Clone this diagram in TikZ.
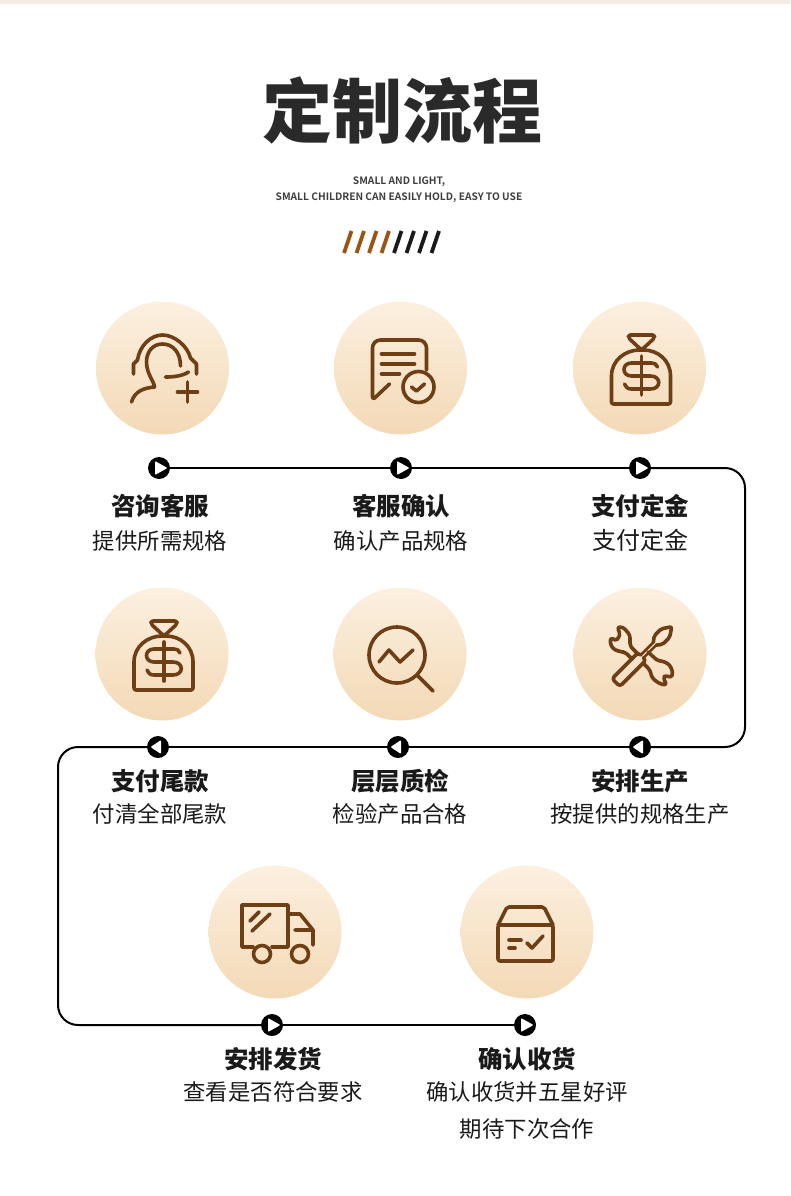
\documentclass[tikz,border=0pt]{standalone}
\usepackage{xcolor}
\usepackage{fontspec}
\usepackage{tikz}
\usetikzlibrary{positioning, calc}
\setmainfont{Noto Sans CJK SC}
\newfontfamily\heavyfont{Noto Sans CJK SC Black}
\newfontfamily\midfont{Noto Sans CJK SC Bold}
\definecolor{mybrown}{RGB}{110,62,20}
\definecolor{myorange}{RGB}{156,84,20}
\definecolor{mydark}{RGB}{26,26,26}
\definecolor{titledark}{RGB}{42,42,42}
\definecolor{smallgrey}{RGB}{62,62,62}
\definecolor{bandtan}{RGB}{243,235,226}
\definecolor{disctop}{RGB}{252,240,224}
\definecolor{discbot}{RGB}{243,217,182}
\tikzset{
  disc/.style={circle, minimum size=133pt, inner sep=0pt, outer sep=0pt,
    top color=disctop, bottom color=discbot},
  icon/.style={draw=mybrown, line width=3.6pt, line cap=round, line join=round},
  flow/.style={line width=2pt, color=black, rounded corners=20pt},
  markbase/.style={circle, fill=black, minimum size=22pt, inner sep=0pt, outer sep=0pt},
  markright/.style={markbase, path picture={
    \fill[white, rounded corners=1pt] ([shift={(-4pt,-7pt)}]path picture bounding box.center)
      -- ([shift={(8.5pt,0pt)}]path picture bounding box.center)
      -- ([shift={(-4pt,7pt)}]path picture bounding box.center) -- cycle;}},
  markleft/.style={markbase, path picture={
    \fill[white, rounded corners=1pt] ([shift={(3pt,-7pt)}]path picture bounding box.center)
      -- ([shift={(-7.5pt,0pt)}]path picture bounding box.center)
      -- ([shift={(3pt,7pt)}]path picture bounding box.center) -- cycle;}},
  headtext/.style={font=\fontsize{24.5}{28}\selectfont\bfseries, color=mydark,
    inner sep=0pt, text height=21pt, text depth=3pt},
  subtext/.style={font=\fontsize{22.4}{26}\selectfont, color=mydark,
    inner sep=0pt, text height=19pt, text depth=3pt},
  smalltext/.style={font=\fontsize{10.2}{16}\selectfont\midfont, color=smallgrey,
    inner sep=0pt, align=center},
  stripe/.style={line width=3.8pt},
  pics/headicon/.style={code={
    \draw[icon] (-29,6) -- (-29,-4) -- (-25,-8) .. controls (-23,-22) and (-12,-33) .. (0,-33)
      .. controls (12,-33) and (25,-22) .. (28,-10) -- (34,-4) -- (34,6);
    \draw[icon] (18,-2) .. controls (18,-16) and (10,-24) .. (0,-24)
      .. controls (-10,-24) and (-16,-16) .. (-16,-6) .. controls (-16,6) and (-8,14) .. (-8,19)
      .. controls (-20,20) and (-28,24) .. (-31,34);
    \draw[icon] (3,9) .. controls (11,9) and (20,8) .. (26,4);
    \draw[icon] (15,24) -- (35,24) (25,14) -- (25,34);
  }},
  pics/noteicon/.style={code={
    \draw[icon, rounded corners=8pt] (26,2) -- (26,-28) -- (-28,-28) [rounded corners=3pt] -- (-28,32) -- (-11,16);
    \draw[icon] (-19,-14) -- (14,-14) (-19,-4) -- (14,-4) (-19,6) -- (-1,6);
    \draw[icon, fill=disctop!60!discbot] (18,19) circle (15.5);
    \draw[icon] (11,19) -- (16,23) -- (24,16);
  }},
  pics/bagicon/.style={code={
    \draw[icon, rounded corners=2pt] (-11,-33) -- (15,-33) -- (15,-30) -- (2,-18) -- (-11,-30) -- cycle;
    \draw[icon, rounded corners=2pt] (-28,10) .. controls (-28,-8) and (-14,-18) .. (2,-18)
      .. controls (18,-18) and (31,-8) .. (31,10) -- (31,36) -- (-28,36) -- cycle;
    \draw[icon] (2,-12) -- (2,27);
    \draw[icon] (18,-1) .. controls (17,-4) and (15,-5) .. (12,-5) -- (-8,-5)
      .. controls (-18,-5) and (-18,8) .. (-8,8) -- (11,8)
      .. controls (22,8) and (22,21) .. (11,21) -- (-8,21) .. controls (-12,21) and (-14,19) .. (-15,16);
  }},
  pics/lensicon/.style={code={
    \draw[icon] (-3,1) circle (28);
    \draw[icon] (17,21) -- (33,37);
    \draw[icon] (-21,8) -- (-11,-4) -- (0,8) -- (13,-4);
  }},
  pics/toolicon/.style={code={
    \begin{scope}[shift={(3.5,1)}, rotate=45]
      \draw[icon, rounded corners=3pt] (-2,-2) -- (-2,-5.5) -- (-39,-5.5) -- (-39,5.5) -- (-2,5.5) -- (-2,2);
      \draw[icon, line width=2.6pt] (-2,-2) -- (16,-2) (-2,2) -- (16,2);
      \draw[icon, rounded corners=2pt] (16,-2) -- (21,-6) -- (31,-6) -- (40,0) -- (31,6) -- (21,6) -- (16,2);
    \end{scope}
    \draw[icon, rounded corners=3pt] (-3,-1) -- (-10,-8) -- (-10,-19) -- (-17,-27) -- (-23,-27)
      -- (-20,-21) -- (-21,-16) -- (-25,-13) -- (-29,-17) -- (-30,-11) -- (-27,-5) -- (-19,-2) -- (-15,-2) -- (-8,5);
    \draw[icon, rounded corners=3pt] (3,9) -- (10,16) -- (12,24) -- (20,30) -- (27,31)
      -- (23,24) -- (26,21) -- (31,24) -- (33,19) -- (30,11) -- (23,7) -- (18,7) -- (8,-2);
  }},
  pics/truckicon/.style={code={
    \draw[icon] (-22,15) -- (-33,15) -- (-33,-27) -- (13,-27) -- (13,15) -- (-3,15);
    \draw[icon] (13,-18) -- (25,-18) -- (38,-2) -- (38,13) (20,-2) -- (38,-2);
    \draw[icon] (-13,22) circle (8.5) (25,22) circle (8.5);
    \draw[icon] (-25,-11) -- (-16,-20) (-23,-1) -- (-5,-18);
  }},
  pics/boxicon/.style={code={
    \draw[icon, rounded corners=2pt] (-29,-7) -- (26,-7) -- (26,29) -- (-29,29) -- cycle;
    \draw[icon, rounded corners=2pt] (-29,-7) -- (-20,-25) -- (17,-25) -- (26,-7);
    \draw[icon] (-18,8) -- (-6,8) (-18,16) -- (-12,16);
    \draw[icon] (0,11) -- (5,16) -- (16,4);
  }}
}
\begin{document}
\begin{tikzpicture}[x=1pt, y=-1pt]
  \useasboundingbox (0,0) rectangle (790,1196);
  \fill[bandtan] (0,0) rectangle (790,4);

  \node[font=\fontsize{70}{70}\selectfont\heavyfont, color=titledark, inner sep=0pt] (title) at (402,110) {定制流程};
  \node[smalltext, below=33pt of title, xshift=-3pt] (subtitle) {SMALL AND LIGHT,\\SMALL CHILDREN CAN EASILY HOLD, EASY TO USE};

  \foreach \i in {0,...,3}
    \draw[stripe, myorange] (344+12.5*\i,253) -- (351.5+12.5*\i,231);
  \foreach \i in {4,...,7}
    \draw[stripe, mydark] (344+12.5*\i,253) -- (351.5+12.5*\i,231);

  % first row
  \node[disc] (c1) at (162.5,368) {};
  \node[disc, right=105pt of c1] (c2) {};
  \node[disc, right=106pt of c2] (c3) {};
  \pic at (c1) {headicon};
  \pic at (c2) {noteicon};
  \pic at (c3) {bagicon};
  \node[markright, below=22.5pt of c1, xshift=-3.5pt] (m1) {};
  \node[markright, below=22.5pt of c2, xshift=0.5pt] (m2) {};
  \node[markright, below=22.5pt of c3, xshift=0.5pt] (m3) {};
  \node[headtext, below=15pt of m1, xshift=1pt] (h1) {咨询客服};
  \node[headtext, below=15pt of m2] (h2) {客服确认};
  \node[headtext, below=15pt of m3] (h3) {支付定金};
  \node[subtext, below=12pt of h1] (s1) {提供所需规格};
  \node[subtext, below=12pt of h2] (s2) {确认产品规格};
  \node[subtext, below=12pt of h3, font=\fontsize{24}{26}\selectfont] (s3) {支付定金};

  % second row
  \node[disc] (c4) at (640,654) {};
  \node[disc, left=107pt of c4] (c5) {};
  \node[disc, left=105pt of c5] (c6) {};
  \pic at (c4) {toolicon};
  \pic at (c5) {lensicon};
  \pic at (c6) {bagicon};
  \node[markleft, below=15.5pt of c4] (m4) {};
  \node[markleft, below=15.5pt of c5, xshift=-2pt] (m5) {};
  \node[markleft, below=15.5pt of c6, xshift=-4pt] (m6) {};
  \node[headtext, below=11pt of m4] (h4) {安排生产};
  \node[headtext, below=11pt of m5, xshift=2pt] (h5) {层层质检};
  \node[headtext, below=11pt of m6, xshift=2pt] (h6) {支付尾款};
  \node[subtext, below=10pt of h4] (s4) {按提供的规格生产};
  \node[subtext, below=10pt of h5] (s5) {检验产品合格};
  \node[subtext, below=10pt of h6] (s6) {付清全部尾款};

  % third row
  \node[disc] (c7) at (275,932) {};
  \node[disc, right=119pt of c7] (c8) {};
  \pic at (c7) {truckicon};
  \pic at (c8) {boxicon};
  \node[markright, below=15.5pt of c7, xshift=-3pt] (m7) {};
  \node[markright, below=15.5pt of c8, xshift=-2pt] (m8) {};
  \node[headtext, below=11pt of m7, xshift=1pt] (h7) {安排发货};
  \node[headtext, below=11pt of m8, xshift=2pt] (h8) {确认收货};
  \node[subtext, below=10pt of h7] (s7) {查看是否符合要求};
  \node[subtext, below=10pt of h8] (s8) {确认收货并五星好评};
  \node[subtext, below=14pt of s8] (s9) {期待下次合作};

  \coordinate (ca) at (745,468);
  \coordinate (cb) at (745,747);
  \coordinate (cc) at (58,747);
  \coordinate (cd) at (58,1025);
  \draw[flow] (m1) -- (m2);
  \draw[flow] (m2) -- (m3);
  \draw[flow] (m3) -- (ca) -- (cb) -- (m4);
  \draw[flow] (m4) -- (m5);
  \draw[flow] (m5) -- (m6);
  \draw[flow] (m6) -- (cc) -- (cd) -- (m7);
  \draw[flow] (m7) -- (m8);
\end{tikzpicture}
\end{document}
